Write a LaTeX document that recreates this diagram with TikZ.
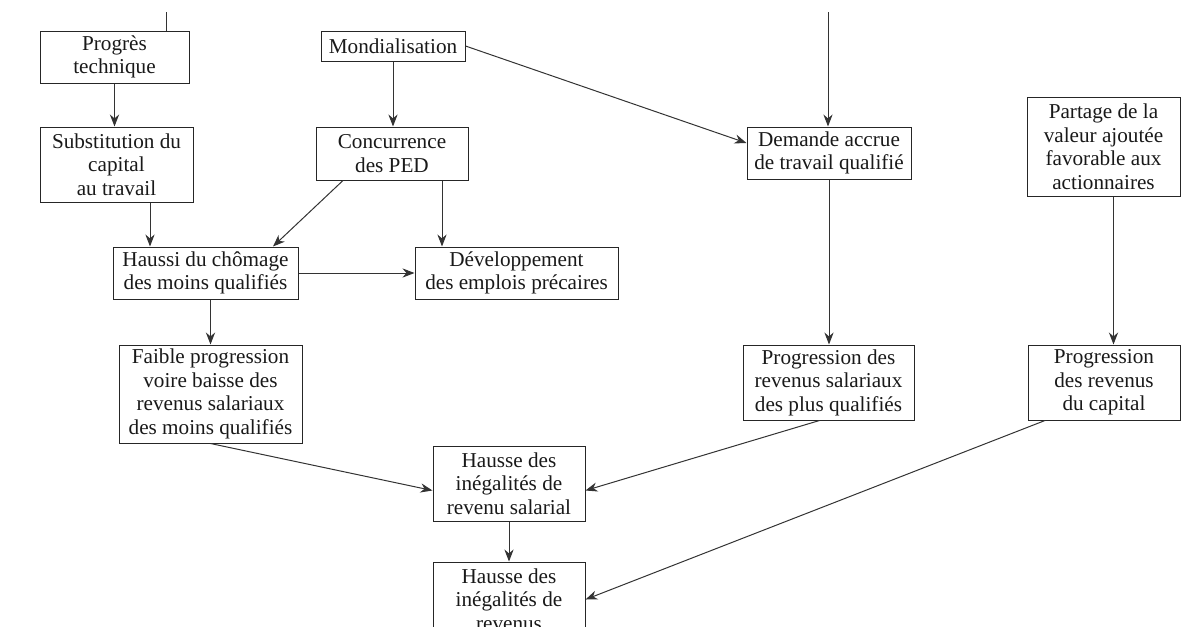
\documentclass[tikz,border=0pt]{standalone}
\usepackage{fontspec}
\setmainfont{Liberation Serif}
\usetikzlibrary{arrows.meta}

\tikzset{
	boite/.style={draw=black!85, line width=.5pt, align=center, inner sep=1pt,
		font=\fontsize{10.6}{11.75}\selectfont, text=black!90},
	fleche/.style={draw=black!80, line width=.5pt, -{Stealth[length=6pt,width=4.6pt]}},
	trait/.style={draw=black!80, line width=.5pt}
}

\begin{document}
\begin{tikzpicture}[x=.5pt, y=-.5pt]
	
	\useasboundingbox (0,0) rectangle (1201,627);
	\clip (0,0) rectangle (1201,627);
	
	\node[boite, minimum width=74.5pt, minimum height=26pt] (prog) at (114.5,57) {Progrès\\technique};
	\node[boite, minimum width=76.5pt, minimum height=37.5pt] (subst) at (116.5,164.5) {Substitution du\\capital\\au travail};
	\node[boite, minimum width=72pt, minimum height=15pt] (mond) at (393,46) {Mondialisation};
	\node[boite, minimum width=76pt, minimum height=26.5pt] (conc) at (392,153.5) {Concurrence\\des PED};
	\node[boite, minimum width=92.5pt, minimum height=26pt] (haus) at (205.5,273) {Haussi du chômage\\des moins qualifiés};
	\node[boite, minimum width=101.5pt, minimum height=26pt] (dev) at (516.5,273) {Développement\\des emplois précaires};
	\node[boite, minimum width=91.5pt, minimum height=49pt] (faib) at (210.5,394) {Faible progression\\voire baisse des\\revenus salariaux\\des moins qualifiés};
	\node[boite, minimum width=82pt, minimum height=26pt] (dem) at (829,153) {Demande accrue\\de travail qualifié};
	\node[boite, minimum width=76.5pt, minimum height=49.5pt] (part) at (1103.5,146.5) {Partage de la\\valeur ajoutée\\favorable aux\\actionnaires};
	\node[boite, minimum width=85.5pt, minimum height=37.5pt] (psal) at (828.5,382.5) {Progression des\\revenus salariaux\\des plus qualifiés};
	\node[boite, minimum width=76pt, minimum height=37.5pt] (pcap) at (1104,382.5) {Progression\\des revenus\\du capital};
	\node[boite, minimum width=76pt, minimum height=37.5pt] (hsal) at (509,483.5) {Hausse des\\inégalités de\\revenu salarial};
	\node[boite, minimum width=76pt, minimum height=37.5pt] (hrev) at (509,599.5) {Hausse des\\inégalités de\\revenus};
	
	\coordinate (hautA) at (166,12);
	\coordinate (hautB) at (828,12);
	
	\draw[trait] (hautA) -- (hautA |- prog.north);
	\draw[fleche] (prog.south) -- (prog.south |- subst.north);
	\draw[fleche] ([xshift=16.75pt]subst.south) -- ([xshift=16.75pt]subst.south |- haus.north);
	\draw[fleche] (mond.south) -- (mond.south |- conc.north);
	\draw[fleche] ([xshift=-24.5pt]conc.south) -- ([xshift=33.75pt]haus.north);
	\draw[fleche] ([xshift=25pt]conc.south) -- ([xshift=25pt]conc.south |- dev.north);
	\draw[fleche] (haus.east) -- (dev.west);
	\draw[fleche] (faib.north |- haus.south) -- (faib.north);
	\draw[fleche] (mond.east) -- ([yshift=5pt]dem.west);
	\draw[fleche] (hautB) -- (hautB |- dem.north);
	\draw[fleche] (dem.south) -- (dem.south |- psal.north);
	\draw[fleche] ([xshift=5pt]part.south) -- ([xshift=5pt]part.south |- pcap.north);
	\draw[fleche] (faib.south) -- ([yshift=-3.5pt]hsal.west);
	\draw[fleche] ([xshift=-4.5pt]psal.south) -- ([yshift=-3.5pt]hsal.east);
	\draw[fleche] (hsal.south) -- (hsal.south |- hrev.north);
	\draw[fleche] ([xshift=-29.5pt]pcap.south) -- (hrev.east);
	
\end{tikzpicture}
\end{document}
